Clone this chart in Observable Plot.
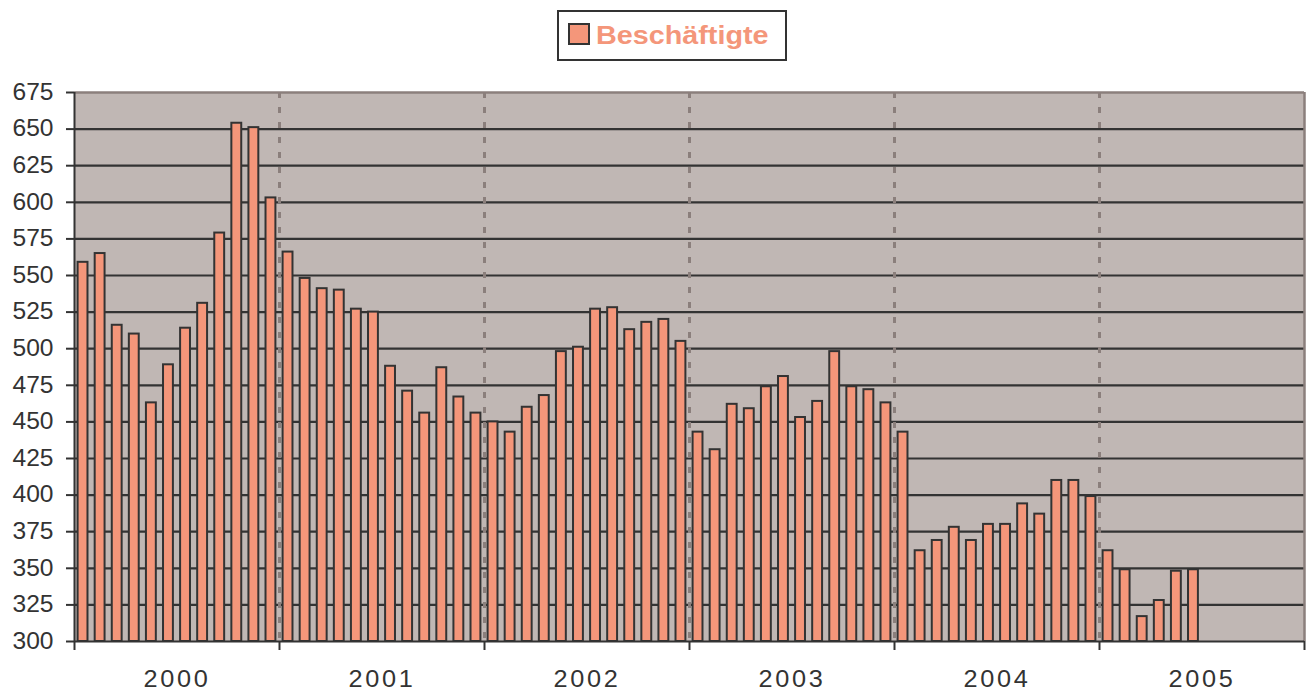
<!DOCTYPE html>
<html>
<head>
<meta charset="utf-8">
<script src="https://cdn.jsdelivr.net/npm/d3@7"></script>
<script src="https://cdn.jsdelivr.net/npm/@observablehq/plot@0.6"></script>
<style>
  html, body { margin: 0; padding: 0; background: #ffffff; }
  body { width: 1308px; height: 693px; overflow: hidden; font-family: "Liberation Sans", Arial, sans-serif; }
  #legend { position: relative; height: 80px; width: 1308px; }
  #legend .box { position: absolute; left: 557px; top: 10px; width: 230px; height: 51px; box-sizing: border-box;
    border: 2px solid #333333; background: #ffffff; }
  #legend .sw { position: absolute; left: 9px; top: 11px; width: 18px; height: 18px; background: #F4967A; border: 2px solid #333333; }
  #legend .lbl { position: absolute; left: 37px; top: 8px; color: #F4967A; font-weight: bold; font-size: 25px; line-height: 30px;
    transform: scaleX(1.15); transform-origin: left center; white-space: nowrap; }
  #chart svg { display: block; }
</style>
</head>
<body>
<div id="legend"><div class="box"><div class="sw"></div><div class="lbl" id="lbl"></div></div></div>
<div id="chart"></div>
<script>
// ---- data ----
const seriesName = "Beschäftigte";
const startYear = 2000;
const yearLabels = ["2000", "2001", "2002", "2003", "2004", "2005"];
const values2000 = [559, 565, 516, 510, 463, 489, 514, 531, 579, 654, 651, 603];
const values2001 = [566, 548, 541, 540, 527, 525, 488, 471, 456, 487, 467, 456];
const values2002 = [450, 443, 460, 468, 498, 501, 527, 528, 513, 518, 520, 505];
const values2003 = [443, 431, 462, 459, 474, 481, 453, 464, 498, 474, 472, 463];
const values2004 = [443, 362, 369, 378, 369, 380, 380, 394, 387, 410, 410, 399];
const values2005 = [362, 349, 317, 328, 348, 349];
const yTicks = [300, 325, 350, 375, 400, 425, 450, 475, 500, 525, 550, 575, 600, 625, 650, 675];
const monthsPerYear = 12;

document.getElementById("lbl").textContent = seriesName;

// ---- build table ----
const allValues = [].concat(values2000, values2001, values2002, values2003, values2004, values2005);
const data = allValues.map((v, i) => ({ i, year: startYear + Math.floor(i / monthsPerYear), month: i % monthsPerYear + 1, value: v }));
const yMin = yTicks[0], yMax = yTicks[yTicks.length - 1];
const nSlots = yearLabels.length * monthsPerYear;
const boundaries = d3.range(0, nSlots + 1, monthsPerYear);
const innerBoundaries = boundaries.slice(1, -1);
const yearCenters = yearLabels.map((_, k) => k * monthsPerYear + monthsPerYear / 2);

const dark = "#333333";
const grey = "#8B7F7C";

const chart = Plot.plot({
  width: 1308,
  height: 613,
  marginTop: 12,
  marginBottom: 52,
  marginLeft: 74,
  marginRight: 4,
  style: { fontFamily: "'Liberation Sans', Arial, sans-serif", color: dark, background: "transparent" },
  x: { type: "linear", domain: [0, nSlots], axis: null },
  y: { domain: [yMin, yMax], axis: null },
  marks: [
    Plot.frame({ fill: "#C0B7B4", stroke: null }),
    Plot.ruleY(yTicks.slice(1, -1), { stroke: dark, strokeWidth: 2.2 }),
    Plot.ruleX(innerBoundaries, { stroke: grey, strokeWidth: 3, strokeDasharray: "6,9" }),
    Plot.ruleY([yMax], { stroke: grey, strokeWidth: 2.5 }),
    Plot.ruleX([nSlots], { stroke: grey, strokeWidth: 2.5 }),
    Plot.rectY(data, {
      x1: "i", x2: d => d.i + 1, y1: () => yMin, y2: "value",
      insetLeft: 3.6, insetRight: 3.6,
      fill: "#F4967A", stroke: dark, strokeWidth: 2
    }),
    Plot.ruleY([yMin], { stroke: dark, strokeWidth: 2 }),
    Plot.ruleX([0], { stroke: dark, strokeWidth: 2 }),
    Plot.axisY({ ticks: yTicks, tickSize: 8, tickPadding: 13, fontSize: 23, label: null, stroke: dark, strokeWidth: 2, fill: dark, tickFormat: d => String(d) }),
    Plot.axisX({ ticks: boundaries, tickSize: 9, tickFormat: () => "", label: null, stroke: dark, strokeWidth: 2 }),
    Plot.axisX({ ticks: yearCenters, tickSize: 0, tickPadding: 29, fontSize: 23, label: null, fill: dark,
      tickFormat: d => yearLabels[Math.floor(d / monthsPerYear)] })
  ]
});
document.getElementById("chart").appendChild(chart);

// horizontally stretched glyphs as in the reference (keep em-based x/y attributes intact)
function stretch(t, s, size) {
  const xa = t.getAttribute("x");
  const xv = xa == null ? 0 : parseFloat(xa);
  let tr = t.getAttribute("transform") || "";
  if (xa != null && /^-?[\d.]+(px)?$/.test(xa.trim()) && xv !== 0) {
    t.removeAttribute("x");
    tr += ` translate(${xv},0)`;
  }
  t.setAttribute("transform", `${tr} scale(${s},1)`);
  t.setAttribute("font-size", size);
}
chart.querySelectorAll("g[aria-label='y-axis tick label'] text").forEach(t => stretch(t, 1.07, 23));
chart.querySelectorAll("g[aria-label='x-axis tick label'] text").forEach(t => { stretch(t, 1.1, 23); t.setAttribute("letter-spacing", "2.5"); });
</script>
</body>
</html>
